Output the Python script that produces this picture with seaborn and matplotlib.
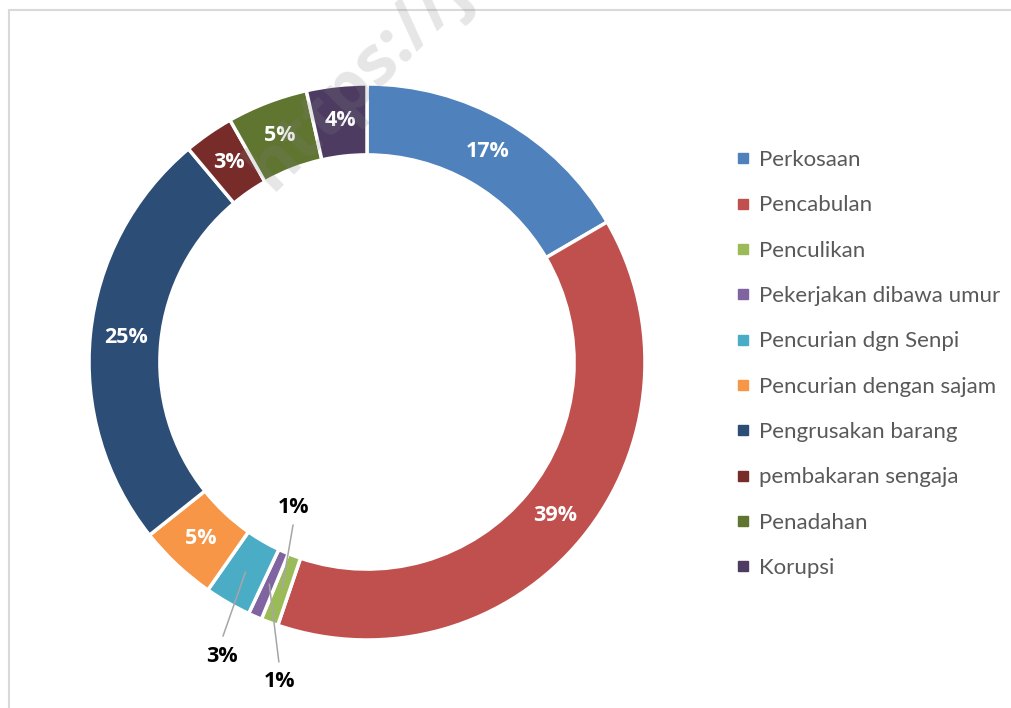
import matplotlib
matplotlib.use("Agg")
import matplotlib.pyplot as plt
import seaborn as sns
import numpy as np
from matplotlib.lines import Line2D

categories = ["Perkosaan", "Pencabulan", "Penculikan", "Pekerjakan dibawa umur",
              "Pencurian dgn Senpi", "Pencurian dengan sajam", "Pengrusakan barang",
              "pembakaran sengaja", "Penadahan", "Korupsi"]
values = [16.6, 38.6, 1.0, 0.8, 2.7, 4.6, 24.6, 2.9, 4.7, 3.5]
colors = ["#4F81BD", "#C0504D", "#9BBB59", "#8064A2", "#4BACC6",
          "#F79646", "#2C4D75", "#772C2A", "#5F7530", "#4D3B62"]
# outside labels (index -> label xy, leader end xy) in data units
outside = {2: ((-0.266, -0.525), (-0.266, -0.586)),
           3: ((-0.313, -1.151), (-0.317, -1.079)),
           4: ((-0.522, -1.061), (-0.518, -0.986))}

sns.set_theme(style="white")
plt.rcParams['font.family'] = ['Lato', 'DejaVu Sans']
label_font = ['Open Sans', 'DejaVu Sans']

W, H = 1011, 708
fig = plt.figure(figsize=(W / 100, H / 100), dpi=100)
cx, cy, R = 367, 362, 278
ax = fig.add_axes([(cx - R) / W, (H - cy - R) / H, 2 * R / W, 2 * R / H])
ring = 0.255
wedges, _ = ax.pie(values, colors=colors, startangle=90, counterclock=False,
                   radius=1.0, wedgeprops=dict(width=ring, edgecolor='white', linewidth=2.5))
ax.set_xlim(-1, 1)
ax.set_ylim(-1, 1)
ax.axis('off')

for i, w in enumerate(wedges):
    mid = np.deg2rad((w.theta1 + w.theta2) / 2)
    txt = f"{values[i]:.0f}%"
    r0 = 1 - ring / 2
    if i in outside:
        (lx, ly), (ex, ey) = outside[i]
        ax.plot([r0 * np.cos(mid), ex], [r0 * np.sin(mid), ey], color='#A6A6A6', lw=1.1,
                clip_on=False, zorder=3)
        ax.text(lx, ly, txt, ha='center', va='center', fontsize=15.5, fontweight='bold',
                color='black', family=label_font)
    else:
        ax.text(r0 * np.cos(mid), r0 * np.sin(mid), txt, ha='center', va='center',
                fontsize=15.5, fontweight='bold', color='white', family=label_font)

handles = [Line2D([0], [0], marker='s', linestyle='none', markersize=7, color=c)
           for c in colors]
fig.legend(handles, categories, loc='upper left', bbox_to_anchor=(736 / W, 1 - 150 / H),
           frameon=False, fontsize=16, labelcolor='#595959', handlelength=0.6,
           handletextpad=0.45, labelspacing=1.14, borderpad=0, borderaxespad=0)

# chart border
fig.add_artist(Line2D([8.5 / W, 8.5 / W], [0, 1 - 9.5 / H], color='#D9D9D9', lw=1.5,
                      transform=fig.transFigure))
fig.add_artist(Line2D([8.5 / W, 1], [1 - 9.5 / H, 1 - 9.5 / H], color='#D9D9D9', lw=1.5,
                      transform=fig.transFigure))

# watermark
fig.text(272 / W, 1 - 192 / H, "https://j", rotation=45, rotation_mode='anchor',
         ha='left', va='baseline', fontsize=50, fontweight='bold', color='#808080',
         alpha=0.2, zorder=10, family=label_font)

fig.savefig("out.png", dpi=100)
